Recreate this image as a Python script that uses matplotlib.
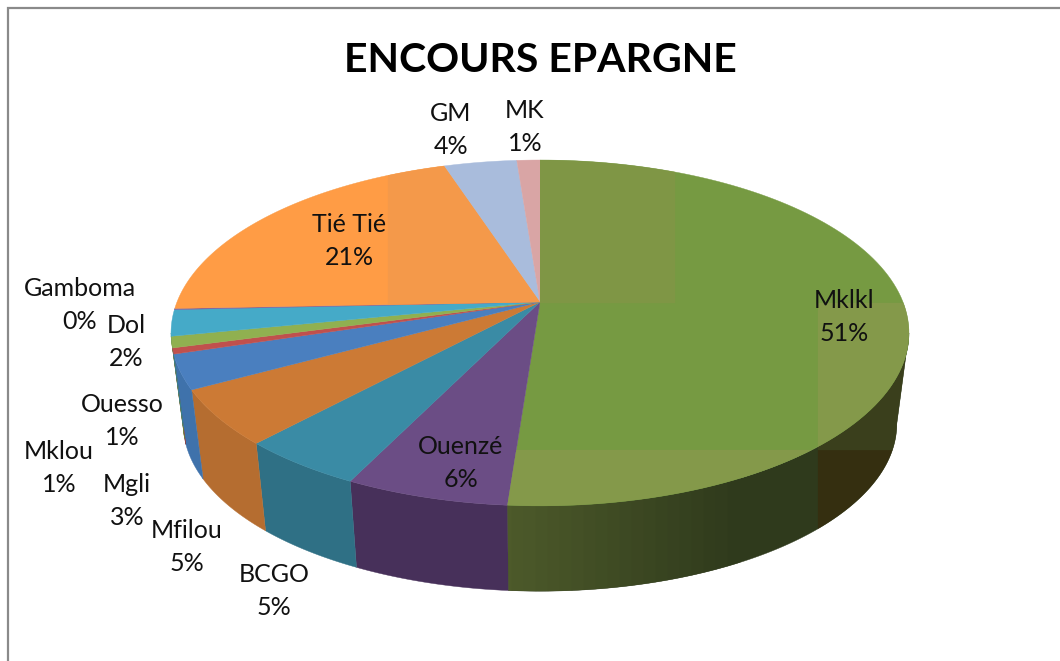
import numpy as np
import matplotlib
matplotlib.use("Agg")
import matplotlib.pyplot as plt
import matplotlib.colors as mcolors
from matplotlib.patches import Polygon, Rectangle

title = "ENCOURS EPARGNE"
categories = ["Mklkl", "Ouenzé", "BCGO", "Mfilou", "Mgli", "Mklou", "Ouesso", "Dol", "Gamboma", "Tié Tié", "GM", "MK"]
shares = [51.15, 6.05, 4.65, 5.15, 3.2, 0.55, 1.05, 2.45, 0.1, 20.6, 3.8, 1.2]
shown_pct = [51, 6, 5, 5, 3, 1, 1, 2, 0, 21, 4, 1]

top_colors = ["#769a42", "#6b4d85", "#3a8ba5", "#cc7a35", "#4a7fbf", "#c0504d", "#90b050", "#45aac8", "#7a5a9a", "#f79a45", "#a9bcdc", "#d9a5a5"]
side_colors = ["#2f3a1c", "#47305a", "#2f7085", "#b56d30", "#3f72ab", "#8a3a38", "#6a8238", "#337f95", "#5a4272", "#b8722f", "#7f8da5", "#a37c7c"]

label_xy = [(844, 317), (461, 463), (274, 591), (187, 547), (127, 501), (59, 468),
            (122, 421), (126, 342), (80, 305), (349, 241), (451, 130), (525, 127)]

W, H = 1060, 661
CX, CY, A, B, K = 540.0, 302.0, 363.0, 167.4, 0.179
S, CY2 = 0.967, 394.0


def project(theta, scale=1.0, cy=CY):
    """Clockwise angle from 12 o'clock onto a perspective-foreshortened disc."""
    u, v = np.sin(theta), -np.cos(theta)
    d = 1 - K * v
    return CX + scale * A * u / d, cy + scale * B * v / d


plt.rcParams["font.family"] = ["Lato", "DejaVu Sans"]
fig = plt.figure(figsize=(W / 100, H / 100), dpi=100)
ax = fig.add_axes([0, 0, 1, 1])
ax.set_xlim(0, W)
ax.set_ylim(H, 0)
ax.axis("off")

# chart frame (left and top only are visible in the crop)
ax.plot([8, 8, W], [H, 8, 8], color="#8a8a8a", lw=1.6, solid_joinstyle="miter", zorder=1)

edges = np.cumsum([0] + shares) / sum(shares) * 2 * np.pi
t_in = np.pi - np.arccos(K)      # silhouette of the wall on the right
t_out = np.pi + np.arccos(K)     # silhouette of the wall on the left


def patch(clip, x, y, w, h, color, z):
    r = Rectangle((x, y), w, h, fc=color, ec=color, lw=0.2, zorder=z)
    ax.add_patch(r)
    r.set_clip_path(clip)


# side wall: only the part that faces the viewer
for i in range(len(shares)):
    a, b = max(edges[i], t_in), min(edges[i + 1], t_out)
    if a >= b:
        continue
    t = np.linspace(a, b, 120)
    x1, y1 = project(t)
    x2, y2 = project(t, S, CY2)
    poly = Polygon(np.r_[np.c_[x1, y1], np.c_[x2, y2][::-1]], closed=True,
                   fc=side_colors[i], ec=side_colors[i], lw=0.3, zorder=2)
    ax.add_patch(poly)
    if i == 0:
        c0 = np.array(mcolors.to_rgb("#4d5a2a"))
        c1 = np.array(mcolors.to_rgb("#2f3a1c"))
        steps = np.arange(500, 740, 12)
        for xs in steps:
            f = (xs - steps[0]) / (steps[-1] - steps[0])
            patch(poly, xs, 430, 12, 200, tuple(c0 + (c1 - c0) * f), 2.1)
        patch(poly, 818, 450, 120, 200, "#352f10", 2.2)
        patch(poly, 818, 300, 120, 150, "#3a3f1c", 2.2)

# top face
for i in range(len(shares)):
    t = np.linspace(edges[i], edges[i + 1], 120)
    x, y = project(t)
    poly = Polygon(np.r_[[[CX, CY]], np.c_[x, y]], closed=True,
                   fc=top_colors[i], ec=top_colors[i], lw=0.3, zorder=3)
    ax.add_patch(poly)
    if i == 0:
        patch(poly, 540, 100, 135, 203, "#7f9645", 3.1)
        patch(poly, 818, 303, 120, 300, "#84994a", 3.1)
        patch(poly, 500, 450, 318, 100, "#84994a", 3.1)
    if categories[i] == "Tié Tié":
        poly.set_facecolor("#ff9c45")
        patch(poly, 388, 100, 160, 210, "#f4994a", 3.1)

# labels
for name, pct, (lx, ly) in zip(categories, shown_pct, label_xy):
    ax.text(lx, ly, f"{name}\n{pct}%", ha="center", va="center", fontsize=18,
            color="#111111", linespacing=1.5, zorder=5)

ax.text(540, 61, title, ha="center", va="center", fontsize=29.5, fontweight="bold",
        color="black", zorder=5)

fig.savefig("out.png", dpi=100)
